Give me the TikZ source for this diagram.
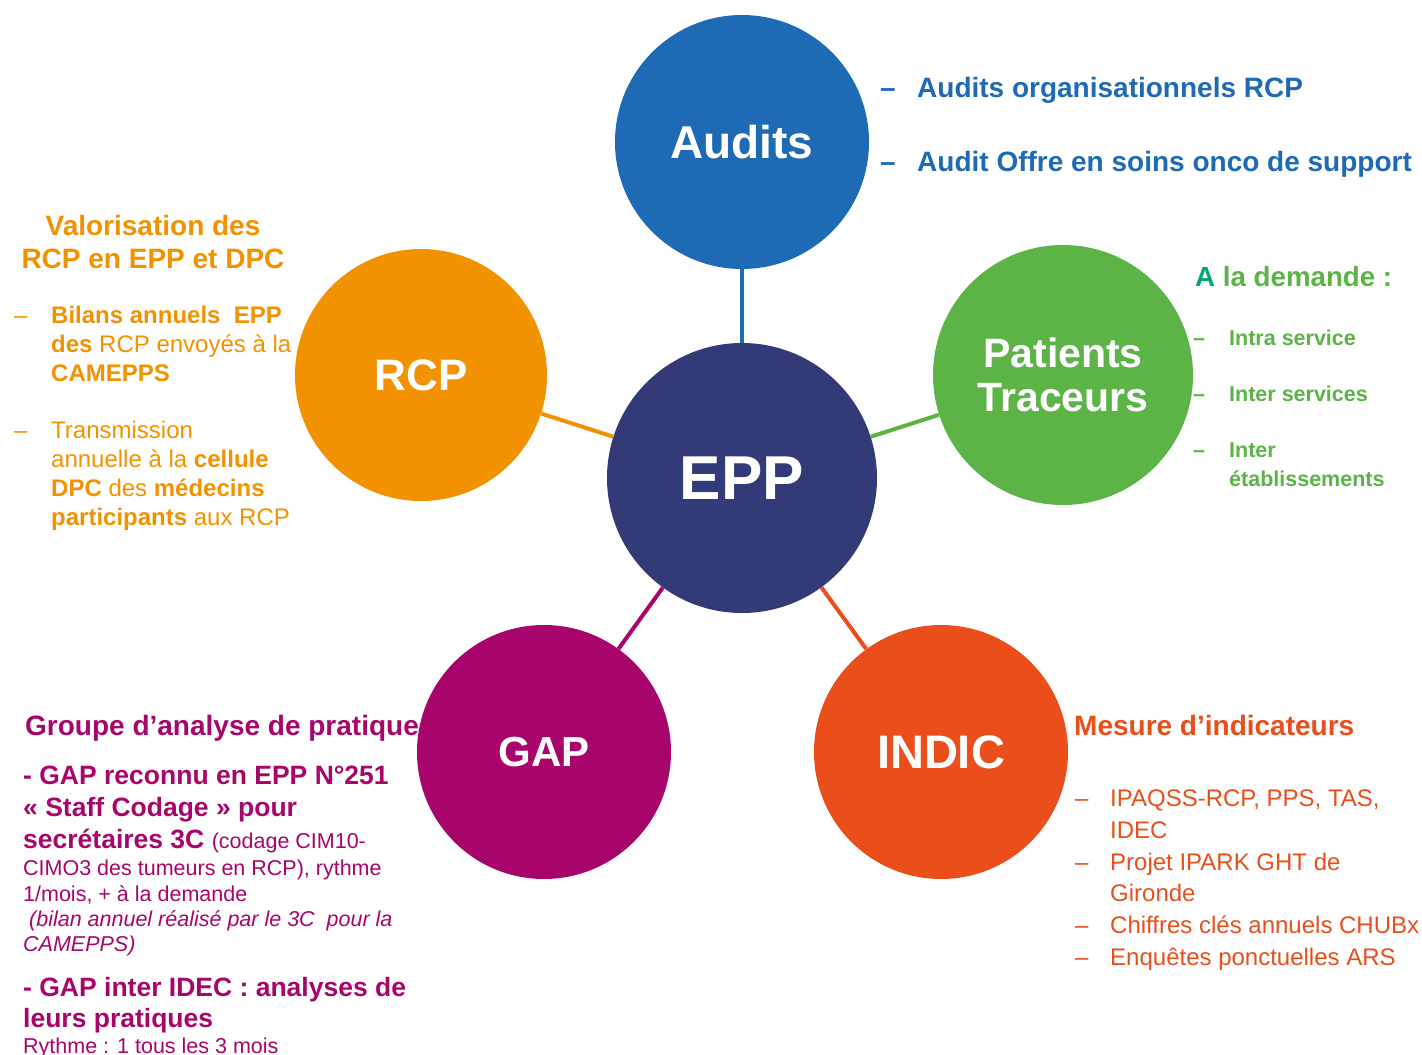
\documentclass[tikz,border=0pt]{standalone}
\usepackage{fontspec}
\setmainfont{Liberation Sans}
\definecolor{auditblue}{HTML}{1E6AB4}
\definecolor{eppnavy}{HTML}{333A78}
\definecolor{rcporange}{HTML}{F39200}
\definecolor{ptgreen}{HTML}{5CB346}
\definecolor{demteal}{HTML}{00A86B}
\definecolor{gapmagenta}{HTML}{A7056B}
\definecolor{indicred}{HTML}{E94E1B}
\newcommand\fsz[1]{\fontsize{#1}{#1}\selectfont}
\tikzset{
  bubble/.style={circle, inner sep=0pt, text=white, minimum size=#1},
  spoke/.style={line width=4pt},
  txt/.style={anchor=base west, inner sep=0pt},
}

\begin{document}
\begin{tikzpicture}[x=1pt, y=-1pt]
  \useasboundingbox (0,0) rectangle (1422,1055);

  % circles
  \node[bubble=270pt, fill=eppnavy, font=\bfseries\fsz{62}] (epp) at (742,478) {EPP};
  \node[bubble=254pt, fill=auditblue, font=\bfseries\fsz{46}] (audits) at (742,142) {Audits};
  \node[bubble=252pt, fill=rcporange, font=\bfseries\fsz{44}] (rcp) at (421,375) {RCP};
  \node[bubble=260pt, fill=ptgreen, font=\bfseries\fontsize{41}{44}\selectfont, align=center] (pt) at (1063,375) {Patients\\Traceurs};
  \node[bubble=254pt, fill=gapmagenta, font=\bfseries\fsz{42}] (gap) at (544,752) {GAP};
  \node[bubble=254pt, fill=indicred, font=\bfseries\fsz{47}] (indic) at (941,752) {INDIC};

  % spokes
  \draw[spoke, auditblue] (audits) -- (epp);
  \draw[spoke, rcporange] (rcp) -- (epp);
  \draw[spoke, ptgreen] (pt) -- (epp);
  \draw[spoke, gapmagenta] (gap) -- (epp);
  \draw[spoke, indicred] (indic) -- (epp);

  % audits
  \foreach \i/\yy/\t in {1/97/{Audits organisationnels RCP}, 2/171/{Audit Offre en soins onco de support}} {
    \node[txt, text=auditblue, font=\bfseries\fsz{28}] (auditd\i) at (880,\yy) {–};
    \node[txt, text=auditblue, font=\bfseries\fsz{28}] (auditl\i) at (917,\yy) {\t};
  }

  % patients traceurs
  \node[txt, text=ptgreen, font=\bfseries\fsz{27.7}] (demande) at (1195,286) {\textcolor{demteal}{A} la demande :};
  \foreach \i/\yy in {1/345, 2/401, 3/457}
    \node[txt, text=ptgreen, font=\bfseries\fsz{21.5}] (ptd\i) at (1193,\yy) {–};
  \foreach \i/\yy/\t in {1/345/{Intra service}, 2/401/{Inter services}, 3/457/{Inter}, 4/486/{établissements}}
    \node[txt, text=ptgreen, font=\bfseries\fsz{21.5}] (ptl\i) at (1229,\yy) {\t};

  % rcp
  \node[anchor=base, inner sep=0pt, text=rcporange, font=\bfseries\fsz{28}] (rcpt1) at (153,235) {Valorisation des};
  \node[anchor=base, inner sep=0pt, text=rcporange, font=\bfseries\fsz{28}] (rcpt2) at (153,268) {RCP en EPP et DPC};
  \foreach \i/\yy in {1/323, 2/438}
    \node[txt, text=rcporange, font=\fsz{24}] (rcpd\i) at (14,\yy) {–};
  \foreach \i/\yy/\t in {1/323/{\textbf{Bilans annuels~~EPP}}, 2/352/{\textbf{des} RCP envoyés à la},
      3/381/{\textbf{CAMEPPS}}, 4/438/{Transmission}, 5/467/{annuelle à la \textbf{cellule}},
      6/496/{\textbf{DPC} des \textbf{médecins}}, 7/525/{\textbf{participants} aux RCP}}
    \node[txt, text=rcporange, font=\fsz{24}] (rcpl\i) at (51,\yy) {\t};

  % gap
  \node[txt, text=gapmagenta, font=\bfseries\fsz{28}] (gapt) at (25,735) {Groupe d’analyse de pratique};
  \foreach \i/\yy/\t in {1/784/{- GAP reconnu en EPP N°251}, 2/816/{« Staff Codage » pour},
      3/848/{secrétaires 3C {\mdseries\fsz{21.5}(codage CIM10-}}, 4/996/{- GAP inter IDEC : analyses de},
      5/1027/{leurs pratiques}}
    \node[txt, text=gapmagenta, font=\bfseries\fsz{26.5}] (gapl\i) at (23,\yy) {\t};
  \foreach \i/\yy/\t in {1/875/{CIMO3 des tumeurs en RCP), rythme}, 2/901/{1/mois, + à la demande},
      3/926/{\itshape~(bilan annuel réalisé par le 3C~~pour la}, 4/951/{\itshape CAMEPPS)},
      5/1053/{Rythme : 1 tous les 3 mois}}
    \node[txt, text=gapmagenta, font=\fsz{21.5}] (gaps\i) at (23,\yy) {\t};

  % indic
  \node[txt, text=indicred, font=\bfseries\fsz{28}] (indict) at (1074,735) {Mesure d’indicateurs};
  \foreach \i/\yy in {1/806, 2/870, 3/933, 4/965}
    \node[txt, text=indicred, font=\fsz{24}] (indicd\i) at (1075,\yy) {–};
  \foreach \i/\yy/\t in {1/806/{IPAQSS-RCP, PPS, TAS,}, 2/838/{IDEC}, 3/870/{Projet IPARK GHT de},
      4/901/{Gironde}, 5/933/{Chiffres clés annuels CHUBx}, 6/965/{Enquêtes ponctuelles ARS}}
    \node[txt, text=indicred, font=\fsz{24}] (indicl\i) at (1110,\yy) {\t};
\end{tikzpicture}
\end{document}
